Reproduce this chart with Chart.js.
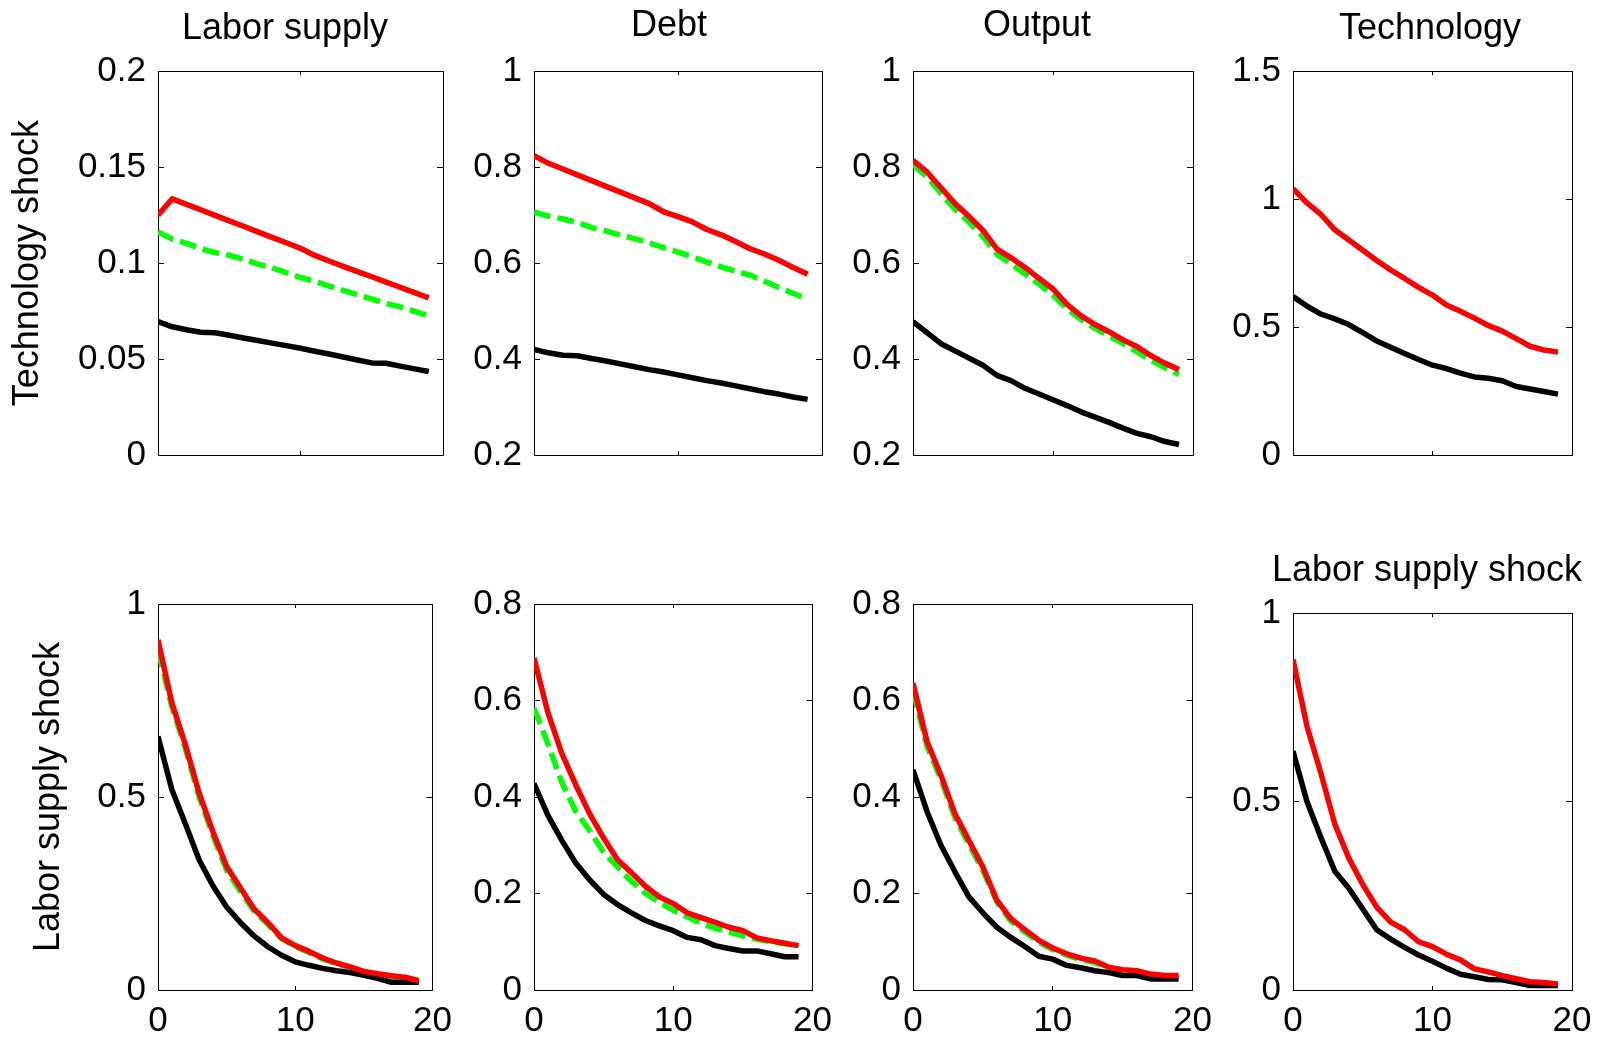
<!DOCTYPE html>
<html>
<head>
<meta charset="utf-8">
<script src="https://cdn.jsdelivr.net/npm/chart.js@4.4.1/dist/chart.umd.min.js"></script>
<style>
html, body { margin: 0; padding: 0; background: #ffffff; width: 1604px; height: 1037px; overflow: hidden; position: relative; }
canvas { position: absolute; }
</style>
</head>
<body>
<script>
// ---------------- DATA ----------------
const periods = [0,1,2,3,4,5,6,7,8,9,10,11,12,13,14,15,16,17,18,19];
const xTickValues = [0, 10, 20];

const columnTitles = ['Labor supply', 'Debt', 'Output', 'Technology'];
const rowLabels = ['Technology shock', 'Labor supply shock'];
const lastPanelTitle = 'Labor supply shock';

// y tick labels per panel
const yTicksTechLabor  = [0, 0.05, 0.1, 0.15, 0.2];
const yTicksTechDebt   = [0.2, 0.4, 0.6, 0.8, 1];
const yTicksTechOutput = [0.2, 0.4, 0.6, 0.8, 1];
const yTicksTechTech   = [0, 0.5, 1, 1.5];
const yTicksLabLabor   = [0, 0.5, 1];
const yTicksLabDebt    = [0, 0.2, 0.4, 0.6, 0.8];
const yTicksLabOutput  = [0, 0.2, 0.4, 0.6, 0.8];
const yTicksLabTech    = [0, 0.5, 1];

// Technology shock row
const techLaborRed   = [0.125, 0.1335, 0.1306, 0.1278, 0.1249, 0.1220, 0.1192, 0.1163, 0.1134, 0.1106, 0.1077, 0.1040, 0.1011, 0.0983, 0.0956, 0.0929, 0.0901, 0.0874, 0.0846, 0.0819];
const techLaborGreen = [0.1162, 0.1125, 0.1103, 0.1075, 0.1055, 0.1040, 0.1020, 0.0995, 0.0975, 0.0950, 0.0925, 0.0905, 0.0880, 0.0858, 0.0835, 0.0812, 0.0790, 0.0772, 0.0748, 0.0724];
const techLaborBlack = [0.0695, 0.0668, 0.0653, 0.0640, 0.0637, 0.0624, 0.0610, 0.0597, 0.0583, 0.0570, 0.0556, 0.0541, 0.0526, 0.0511, 0.0495, 0.0480, 0.0478, 0.0463, 0.0449, 0.0435];

const techDebtRed    = [0.824, 0.808, 0.796, 0.784, 0.772, 0.760, 0.748, 0.736, 0.724, 0.707, 0.697, 0.686, 0.670, 0.659, 0.645, 0.630, 0.619, 0.606, 0.591, 0.577];
const techDebtGreen  = [0.706, 0.698, 0.692, 0.685, 0.674, 0.667, 0.658, 0.651, 0.642, 0.632, 0.623, 0.613, 0.602, 0.592, 0.583, 0.575, 0.562, 0.549, 0.537, 0.524];
const techDebtBlack  = [0.420, 0.413, 0.408, 0.407, 0.401, 0.396, 0.390, 0.384, 0.378, 0.373, 0.367, 0.361, 0.355, 0.350, 0.344, 0.338, 0.332, 0.327, 0.321, 0.316];

const techOutputRed   = [0.814, 0.790, 0.757, 0.724, 0.697, 0.668, 0.629, 0.611, 0.591, 0.568, 0.546, 0.514, 0.490, 0.472, 0.457, 0.440, 0.426, 0.407, 0.391, 0.378];
const techOutputGreen = [0.805, 0.780, 0.745, 0.712, 0.685, 0.655, 0.618, 0.598, 0.577, 0.556, 0.533, 0.505, 0.482, 0.464, 0.448, 0.432, 0.415, 0.397, 0.382, 0.368];
const techOutputBlack = [0.478, 0.455, 0.432, 0.417, 0.402, 0.387, 0.366, 0.355, 0.339, 0.327, 0.315, 0.303, 0.290, 0.279, 0.268, 0.256, 0.245, 0.238, 0.228, 0.222];

const techTechRed    = [1.041, 0.985, 0.940, 0.880, 0.840, 0.800, 0.760, 0.723, 0.690, 0.655, 0.625, 0.586, 0.562, 0.535, 0.506, 0.484, 0.455, 0.425, 0.410, 0.402];
const techTechBlack  = [0.619, 0.582, 0.551, 0.532, 0.510, 0.478, 0.446, 0.421, 0.397, 0.373, 0.351, 0.338, 0.320, 0.305, 0.300, 0.290, 0.268, 0.258, 0.248, 0.238];

// Labor supply shock row
const labLaborRed    = [0.907, 0.745, 0.635, 0.510, 0.410, 0.320, 0.265, 0.210, 0.175, 0.135, 0.115, 0.100, 0.083, 0.070, 0.060, 0.048, 0.042, 0.037, 0.033, 0.024];
const labLaborGreen  = [0.880, 0.735, 0.625, 0.500, 0.400, 0.310, 0.255, 0.205, 0.170, 0.133, 0.112, 0.097, 0.080, 0.068, 0.058, 0.047, 0.040, 0.035, 0.031, 0.023];
const labLaborBlack  = [0.657, 0.520, 0.430, 0.337, 0.270, 0.215, 0.175, 0.140, 0.112, 0.090, 0.073, 0.064, 0.056, 0.050, 0.045, 0.038, 0.030, 0.020, 0.020, 0.020];

const labDebtRed     = [0.688, 0.575, 0.490, 0.425, 0.365, 0.315, 0.270, 0.243, 0.215, 0.193, 0.179, 0.160, 0.150, 0.140, 0.130, 0.123, 0.108, 0.102, 0.097, 0.092];
const labDebtGreen   = [0.584, 0.510, 0.430, 0.370, 0.330, 0.285, 0.255, 0.225, 0.200, 0.182, 0.165, 0.152, 0.138, 0.128, 0.120, 0.112, 0.105, 0.100, 0.096, 0.091];
const labDebtBlack   = [0.428, 0.362, 0.310, 0.263, 0.228, 0.198, 0.177, 0.160, 0.144, 0.133, 0.123, 0.109, 0.104, 0.092, 0.086, 0.081, 0.081, 0.075, 0.069, 0.069];

const labOutputRed   = [0.636, 0.515, 0.445, 0.365, 0.310, 0.255, 0.186, 0.148, 0.125, 0.103, 0.087, 0.075, 0.066, 0.060, 0.047, 0.042, 0.040, 0.033, 0.030, 0.030];
const labOutputGreen = [0.620, 0.505, 0.437, 0.357, 0.302, 0.248, 0.182, 0.143, 0.120, 0.099, 0.084, 0.072, 0.063, 0.057, 0.045, 0.040, 0.038, 0.031, 0.028, 0.027];
const labOutputBlack = [0.456, 0.370, 0.300, 0.245, 0.193, 0.160, 0.130, 0.109, 0.090, 0.070, 0.064, 0.051, 0.046, 0.040, 0.036, 0.030, 0.030, 0.023, 0.023, 0.023];

const labTechRed     = [0.877, 0.700, 0.575, 0.440, 0.350, 0.280, 0.220, 0.180, 0.160, 0.128, 0.115, 0.095, 0.080, 0.056, 0.048, 0.038, 0.030, 0.022, 0.020, 0.016];
const labTechBlack   = [0.634, 0.500, 0.405, 0.315, 0.270, 0.215, 0.160, 0.135, 0.113, 0.093, 0.076, 0.058, 0.042, 0.035, 0.028, 0.027, 0.020, 0.012, 0.012, 0.012];

// ---------------- STYLE / LAYOUT ----------------
const FONT = "'Liberation Sans', Arial, Helvetica, sans-serif";
const RED = '#ff0000', GREEN = '#00ff00', BLACK = '#000000';

function tri(red, green, black) {
  const s = [
    { values: red, color: RED, width: 5.5 },
    { values: black, color: BLACK, width: 5.5 }
  ];
  if (green) s.push({ values: green, color: GREEN, width: 5.5, dash: [17, 7] });
  return s;
}

// canvas placement (cl, ct, cw, ch) and axis band sizes around each plot box
const panels = [
  { cl: 0,    ct: 0,   cw: 570, ch: 500, yW: 158, y2W: 127, x2H: 21, xH: 45,
    title: columnTitles[0], titlePad: 7, ylabel: rowLabels[0], ylabelPad: 6,
    yMin: 0, yMax: 0.2, yTicks: yTicksTechLabor, showX: false,
    series: tri(techLaborRed, techLaborGreen, techLaborBlack) },
  { cl: 440,  ct: 0,   cw: 458, ch: 500, yW: 94,  y2W: 76,  x2H: 23.5, xH: 45,
    title: columnTitles[1], titlePad: 4.5,
    yMin: 0.2, yMax: 1, yTicks: yTicksTechDebt, showX: false,
    series: tri(techDebtRed, techDebtGreen, techDebtBlack) },
  { cl: 820,  ct: 0,   cw: 434, ch: 500, yW: 93,  y2W: 61,  x2H: 23.5, xH: 45,
    title: columnTitles[2], titlePad: 4.5,
    yMin: 0.2, yMax: 1, yTicks: yTicksTechOutput, showX: false,
    series: tri(techOutputRed, techOutputGreen, techOutputBlack) },
  { cl: 1222, ct: 0,   cw: 416, ch: 500, yW: 71,  y2W: 66,  x2H: 21, xH: 45,
    title: columnTitles[3], titlePad: 7,
    yMin: 0, yMax: 1.5, yTicks: yTicksTechTech, showX: false,
    series: tri(techTechRed, null, techTechBlack) },
  { cl: 0,    ct: 540, cw: 470, ch: 497, yW: 158, y2W: 35,  x2H: 64, xH: 47,
    ylabel: rowLabels[1], ylabelPad: 27.6,
    yMin: 0, yMax: 1, yTicks: yTicksLabLabor, showX: true,
    series: tri(labLaborRed, labLaborGreen, labLaborBlack) },
  { cl: 440,  ct: 540, cw: 410, ch: 497, yW: 94,  y2W: 36,  x2H: 64, xH: 47,
    yMin: 0, yMax: 0.8, yTicks: yTicksLabDebt, showX: true,
    series: tri(labDebtRed, labDebtGreen, labDebtBlack) },
  { cl: 820,  ct: 540, cw: 410, ch: 497, yW: 93,  y2W: 37,  x2H: 64, xH: 47,
    yMin: 0, yMax: 0.8, yTicks: yTicksLabOutput, showX: true,
    series: tri(labOutputRed, labOutputGreen, labOutputBlack) },
  { cl: 1222, ct: 540, cw: 410, ch: 497, yW: 71,  y2W: 60,  x2H: 21, xH: 47,
    title: lastPanelTitle, titlePad: 9,
    yMin: 0, yMax: 1, yTicks: yTicksLabTech, showX: true,
    series: tri(labTechRed, null, labTechBlack) }
];

function gridOpts(len) {
  return { display: true, drawOnChartArea: false, drawTicks: true, tickLength: len, color: BLACK, lineWidth: 1 };
}
const borderOpts = { display: true, color: BLACK, width: 1 };
const tickFont = { family: FONT, size: 35, lineHeight: 1 };
const textFont = { family: FONT, size: 36, weight: 'normal', lineHeight: 1.2 };

panels.forEach(p => {
  const c = document.createElement('canvas');
  c.width = p.cw; c.height = p.ch;
  c.style.left = p.cl + 'px'; c.style.top = p.ct + 'px';
  c.style.width = p.cw + 'px'; c.style.height = p.ch + 'px';
  document.body.appendChild(c);

  const datasets = p.series.map(s => ({
    data: periods.map((x, i) => ({ x: x, y: s.values[i] })),
    borderColor: s.color,
    backgroundColor: s.color,
    borderWidth: s.width,
    borderDash: s.dash || [],
    borderCapStyle: 'butt',
    borderJoinStyle: 'round',
    pointRadius: 0,
    fill: false,
    tension: 0
  }));

  const setX = s => { s.ticks = xTickValues.map(v => ({ value: v })); };
  const setY = s => { s.ticks = p.yTicks.map(v => ({ value: v })); };

  new Chart(c, {
    type: 'line',
    data: { datasets },
    options: {
      responsive: false,
      animation: false,
      devicePixelRatio: 1,
      layout: { padding: 0 },
      plugins: {
        legend: { display: false },
        tooltip: { enabled: false },
        title: {
          display: !!p.title,
          text: p.title || '',
          color: BLACK,
          font: textFont,
          padding: { top: p.titlePad || 0, bottom: 0 },
          align: 'center',
          fullSize: true
        }
      },
      scales: {
        x: {
          type: 'linear', position: 'bottom', min: 0, max: 20,
          afterBuildTicks: setX,
          afterFit: s => { s.height = p.xH; },
          ticks: { display: p.showX, color: BLACK, font: tickFont, padding: 18, maxRotation: 0, autoSkip: false,
                   callback: v => String(v) },
          grid: gridOpts(-4), border: borderOpts
        },
        x2: {
          type: 'linear', position: 'top', min: 0, max: 20,
          afterBuildTicks: setX,
          afterFit: s => { s.height = p.x2H; },
          ticks: { display: false },
          grid: gridOpts(-4), border: borderOpts
        },
        y: {
          type: 'linear', position: 'left', min: p.yMin, max: p.yMax,
          afterBuildTicks: setY,
          afterFit: s => { s.width = p.yW; },
          ticks: { display: true, color: BLACK, font: tickFont, padding: 18, autoSkip: false,
                   callback: v => String(v) },
          grid: gridOpts(-6), border: borderOpts,
          title: p.ylabel ? {
            display: true, text: p.ylabel, color: BLACK, font: textFont,
            padding: { top: p.ylabelPad, bottom: 0 }
          } : { display: false }
        },
        y2: {
          type: 'linear', position: 'right', min: p.yMin, max: p.yMax,
          afterBuildTicks: setY,
          afterFit: s => { s.width = p.y2W; },
          ticks: { display: false },
          grid: gridOpts(-6), border: borderOpts
        }
      }
    }
  });
});
</script>
</body>
</html>
